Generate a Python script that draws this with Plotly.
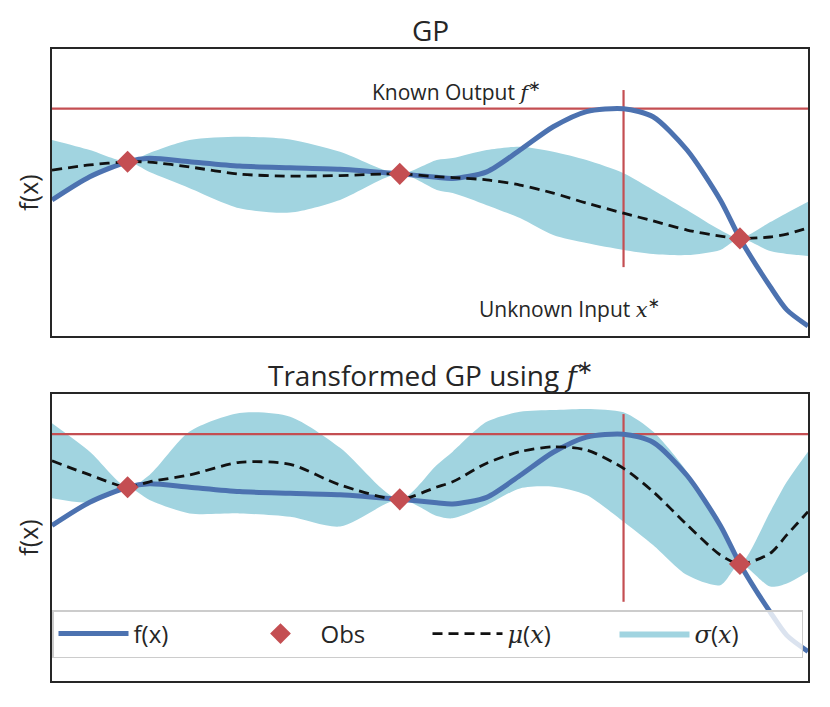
import plotly.graph_objects as go
from plotly.subplots import make_subplots

# ---- data (x in [0,1]; y in arbitrary units shared by both panels) ----
x_grid = [0.0, 0.05, 0.10, 0.129, 0.182, 0.248, 0.315, 0.381, 0.46, 0.509, 0.53,
          0.575, 0.619, 0.663, 0.707, 0.756, 0.795, 0.84, 0.884, 0.91, 0.95, 0.972, 1.0]

f_true = [4.74, 5.55, 6.07, 6.19, 6.07, 5.92, 5.86, 5.81, 5.65, 5.53, 5.49,
          5.72, 6.48, 7.29, 7.82, 7.92, 7.64, 6.48, 4.74, 3.40, 1.72, 0.91, 0.35]

# GP (top)
mu_gp = [5.78, 5.96, 6.07, 6.06, 5.89, 5.64, 5.57, 5.59, 5.65, 5.55, 5.52,
         5.44, 5.26, 4.98, 4.63, 4.28, 4.01, 3.69, 3.48, 3.40, 3.45, 3.55, 3.77]
upper_gp = [6.83, 6.48, 6.07, 6.38, 6.83, 6.94, 6.85, 6.42, 5.65, 6.13, 6.20,
            6.48, 6.59, 6.42, 6.13, 5.67, 5.09, 4.39, 3.69, 3.40, 3.97, 4.29, 4.68]
lower_gp = [4.74, 5.51, 6.07, 5.71, 5.15, 4.45, 4.30, 4.74, 5.65, 5.09, 4.98,
            4.56, 4.11, 3.52, 3.24, 3.00, 2.86, 2.82, 3.00, 3.40, 2.96, 2.86, 2.79]

# Transformed GP (bottom)
mu_tgp = [6.99, 6.50, 6.07, 6.26, 6.50, 6.94, 6.87, 6.15, 5.65, 6.08, 6.26,
          6.91, 7.31, 7.48, 7.37, 6.73, 5.92, 4.76, 3.71, 3.40, 3.77, 4.41, 5.22]
upper_tgp = [8.30, 7.31, 6.07, 6.50, 8.01, 8.66, 8.53, 7.45, 5.65, 6.85, 7.31,
             8.35, 8.70, 8.76, 8.80, 8.68, 8.01, 6.61, 4.64, 3.40, 5.22, 6.26, 7.31]
lower_tgp = [5.69, 5.55, 6.07, 5.63, 5.16, 5.16, 5.04, 4.70, 5.65, 5.07, 4.99,
             5.45, 6.03, 6.09, 5.80, 4.87, 4.06, 3.01, 2.66, 3.40, 2.61, 2.72, 3.13]

obs_x = [0.10, 0.46, 0.91]
obs_y = [6.07, 5.65, 3.40]

f_star = 7.92
x_star = 0.756
vline_top = [8.57, 2.40]
vline_bot = [8.62, 2.08]

y_range_top = [0.0, 10.0]
y_range_bot = [-0.68, 9.32]

titles = ["GP", "Transformed GP using <i style='font-family:DejaVu Serif'>f</i><sup>∗</sup>"]
known_label = "Known Output <i style='font-family:DejaVu Serif'>f</i><sup>∗</sup>"
unknown_label = "Unknown Input <i style='font-family:DejaVu Serif'>x</i><sup>∗</sup>"

# ---- styles ----
BLUE = "#4C72B0"
RED = "#C44E52"
BAND = "#A1D4E0"
TXT = "#262626"
SANS = "Open Sans, DejaVu Sans, sans-serif"

W, H = 814, 691
ML, MR, MT, MB = 44, 14, 41, 18
PH = H - MT - MB  # plot-area height in px
PW = W - ML - MR

fig = make_subplots(rows=2, cols=1, vertical_spacing=58 / PH)

panels = [(1, mu_gp, upper_gp, lower_gp, vline_top, False),
          (2, mu_tgp, upper_tgp, lower_tgp, vline_bot, True)]

SM = 0.75
for row, mu, up, lo, vl, leg in panels:
    fig.add_trace(go.Scatter(x=x_grid, y=lo, mode="lines", line=dict(width=0, shape="spline", smoothing=SM),
                             showlegend=False, hoverinfo="skip"), row=row, col=1)
    fig.add_trace(go.Scatter(x=x_grid, y=up, mode="lines", line=dict(width=0, shape="spline", smoothing=SM),
                             fill="tonexty", fillcolor=BAND,
                             name="<i style='font-family:DejaVu Serif'>σ</i>(<i style='font-family:DejaVu Serif'>x</i>)",
                             showlegend=leg, legendrank=4), row=row, col=1)
    fig.add_trace(go.Scatter(x=[0, 1], y=[f_star, f_star], mode="lines",
                             line=dict(color=RED, width=2.2), showlegend=False, hoverinfo="skip"),
                  row=row, col=1)
    fig.add_trace(go.Scatter(x=[x_star, x_star], y=vl, mode="lines",
                             line=dict(color=RED, width=2.2), showlegend=False, hoverinfo="skip"),
                  row=row, col=1)
    fig.add_trace(go.Scatter(x=x_grid, y=f_true, mode="lines",
                             line=dict(color=BLUE, width=5, shape="spline", smoothing=SM),
                             name="f(x)", showlegend=leg, legendrank=1), row=row, col=1)
    fig.add_trace(go.Scatter(x=x_grid, y=mu, mode="lines",
                             line=dict(color="#111111", width=2.8, dash="10px,6px", shape="spline", smoothing=SM),
                             name="<i style='font-family:DejaVu Serif'>μ</i>(<i style='font-family:DejaVu Serif'>x</i>)",
                             showlegend=leg, legendrank=3), row=row, col=1)
    fig.add_trace(go.Scatter(x=obs_x, y=obs_y, mode="markers",
                             marker=dict(symbol="diamond", size=17, color=RED),
                             name="Obs", showlegend=leg, legendrank=2), row=row, col=1)

axis_common = dict(showticklabels=False, ticks="", showgrid=False, zeroline=False,
                   showline=True, linecolor="#262626", linewidth=2, mirror=True)
for r, yr in [(1, y_range_top), (2, y_range_bot)]:
    fig.update_xaxes(range=[0, 1], **axis_common, row=r, col=1)
    fig.update_yaxes(range=yr, title=dict(text="f(x)", font=dict(size=25, color=TXT), standoff=4),
                     **axis_common, row=r, col=1)

# subplot titles
fig.add_annotation(x=0.5, y=1, xref="paper", yref="paper", yanchor="middle", yshift=19,
                   showarrow=False, text=titles[0], font=dict(size=28, color=TXT))
fig.add_annotation(x=0.5, y=287 / PH, xref="paper", yref="paper", yanchor="middle", yshift=21,
                   showarrow=False, text=titles[1], font=dict(size=28, color=TXT))

fig.add_annotation(x=0.534, y=8.57, xref="x", yref="y", showarrow=False,
                   text=known_label, font=dict(size=21, color=TXT))
fig.add_annotation(x=0.684, y=0.98, xref="x", yref="y", showarrow=False,
                   text=unknown_label, font=dict(size=21, color=TXT))

fig.update_layout(
    width=W, height=H,
    margin=dict(l=ML, r=MR, t=MT, b=MB, autoexpand=False),
    paper_bgcolor="white", plot_bgcolor="white",
    font=dict(family=SANS, color=TXT),
    legend=dict(orientation="h", x=0, y=71 / PH, xanchor="left", yanchor="top",
                bgcolor="rgba(255,255,255,0.8)", bordercolor="#CCCCCC", borderwidth=1.5,
                font=dict(size=24, color=TXT), entrywidth=102, entrywidthmode="pixels",
                itemwidth=70, traceorder="normal", valign="middle"),
)

fig.write_html("out.html")
